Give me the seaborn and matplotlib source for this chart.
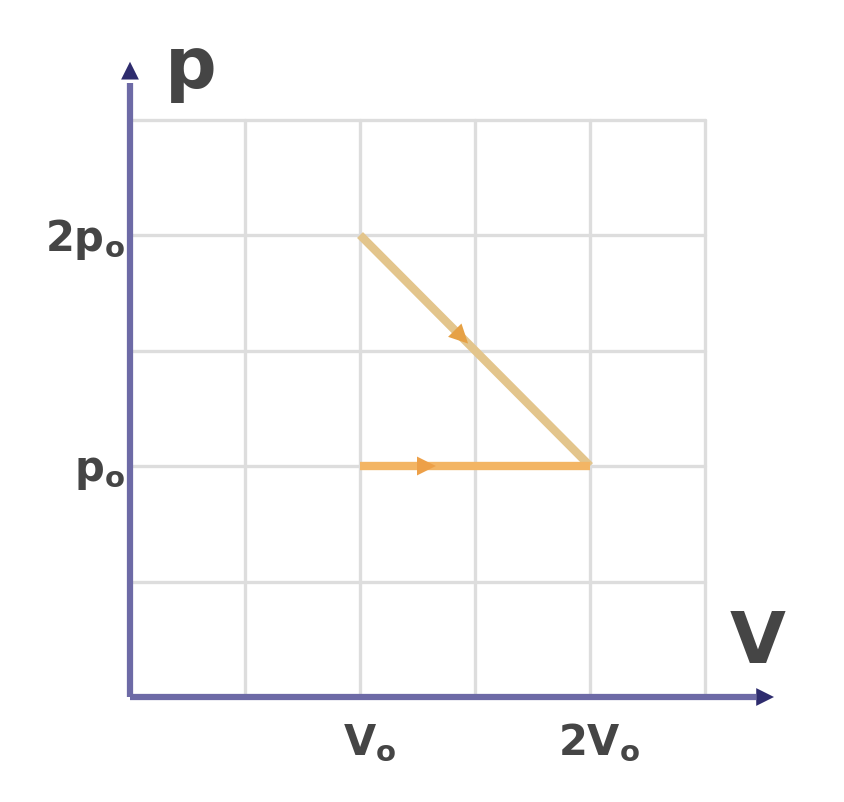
import matplotlib
matplotlib.use("Agg")
import matplotlib.pyplot as plt
import seaborn as sns
import pandas as pd
import numpy as np

sns.set_theme(style="white")
plt.rcParams['font.family'] = ['DejaVu Sans']
plt.rcParams['mathtext.default'] = 'regular'

# Data (in units of V0 and p0)
grid_v = [0.0, 0.5, 1.0, 1.5, 2.0, 2.5]
grid_p = [0.0, 0.5, 1.0, 1.5, 2.0, 2.5]
seg1_v = [1.0, 2.0]   # expansion from (V0, 2p0) to (2V0, p0)
seg1_p = [2.0, 1.0]
seg2_v = [1.0, 2.0]   # isobaric line at p0
seg2_p = [1.0, 1.0]
xtick_vals = [1.0, 2.0]
xtick_labels = ["V$_{o}$", "2V$_{o}$"]
ytick_vals = [1.0, 2.0]
ytick_labels = ["p$_{o}$", "2p$_{o}$"]

fig = plt.figure(figsize=(8.44, 8.02), dpi=100)
ax = fig.add_axes([0, 0, 1, 1])
ax.set_xlim(-130 / 230, (844 - 130) / 230)
ax.set_ylim(-(802 - 697) / 231, 697 / 231)
ax.axis('off')

grid_col = '#dddddd'
for gv in grid_v[1:]:
    ax.plot([gv, gv], [0, grid_p[-1]], color=grid_col, lw=2.4, zorder=1)
for gp in grid_p[1:]:
    ax.plot([0, grid_v[-1]], [gp, gp], color=grid_col, lw=2.4, zorder=1)

df1 = pd.DataFrame({'V': seg1_v, 'p': seg1_p})
df2 = pd.DataFrame({'V': seg2_v, 'p': seg2_p})
c1 = '#e3c58c'
c2 = '#f3b564'
sns.lineplot(data=df1, x='V', y='p', sort=False, color=c1, lw=6, ax=ax, zorder=3,
             solid_capstyle='butt')
sns.lineplot(data=df2, x='V', y='p', sort=False, color=c2, lw=6, ax=ax, zorder=3,
             solid_capstyle='butt')

def mid_arrow(vs, ps, frac, color):
    x0 = vs[0] + (vs[1] - vs[0]) * frac
    y0 = ps[0] + (ps[1] - ps[0]) * frac
    dx = (vs[1] - vs[0]) * 0.05
    dy = (ps[1] - ps[0]) * 0.05
    ax.annotate('', xy=(x0 + dx, y0 + dy), xytext=(x0, y0),
                arrowprops=dict(arrowstyle='-|>', color=color, lw=0,
                                mutation_scale=34, shrinkA=0, shrinkB=0),
                zorder=4)

mid_arrow(seg1_v, seg1_p, 0.42, '#e6a145')
mid_arrow(seg2_v, seg2_p, 0.28, '#eda048')

axis_col = '#6d6aa6'
head_col = '#2e2c6e'
ax.plot([0, 2.72], [0, 0], color=axis_col, lw=4.5, zorder=5, solid_capstyle='butt')
ax.plot([0, 0], [0, 2.66], color=axis_col, lw=4.5, zorder=5, solid_capstyle='butt')
ax.annotate('', xy=(2.8, 0), xytext=(2.66, 0),
            arrowprops=dict(arrowstyle='-|>', color=head_col, lw=0, mutation_scale=32,
                            shrinkA=0, shrinkB=0), zorder=6)
ax.annotate('', xy=(0, 2.75), xytext=(0, 2.6),
            arrowprops=dict(arrowstyle='-|>', color=head_col, lw=0, mutation_scale=32,
                            shrinkA=0, shrinkB=0), zorder=6)

txt_col = '#454545'
ax.text(0.15, 2.72, 'p', fontsize=52, color=txt_col, ha='left', va='center',
        fontweight='bold')
ax.text(2.73, 0.23, 'V', fontsize=52, color=txt_col, ha='center', va='center',
        fontweight='bold')
for v, lab in zip(xtick_vals, xtick_labels):
    ax.text(v + 0.04, -0.2, lab, fontsize=30, color=txt_col, ha='center', va='center',
            fontweight='bold')
for p, lab in zip(ytick_vals, ytick_labels):
    ax.text(-0.02, p - 0.02, lab, fontsize=30, color=txt_col, ha='right', va='center',
            fontweight='bold')

fig.savefig('out.png', dpi=100, facecolor='white')
